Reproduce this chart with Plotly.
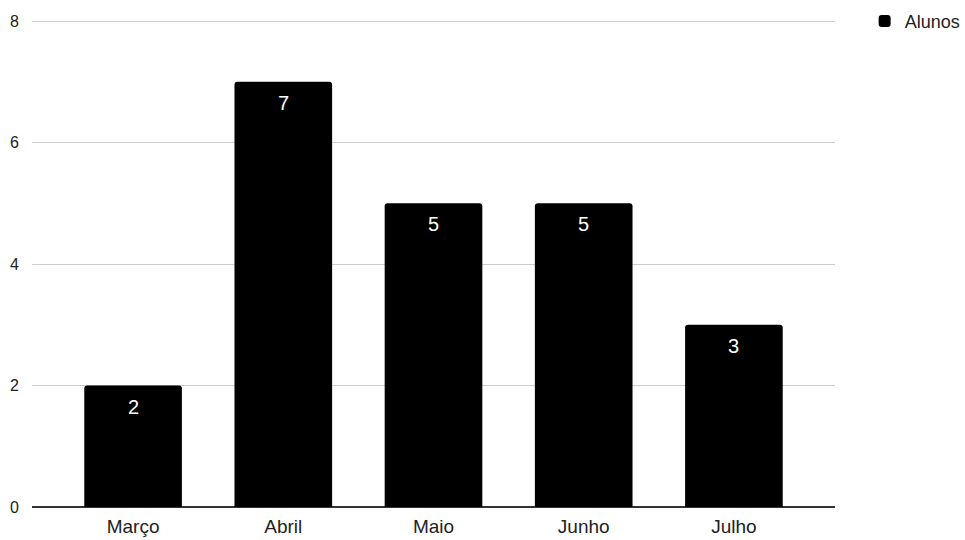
import plotly.graph_objects as go

categories = ["Março", "Abril", "Maio", "Junho", "Julho"]
alunos = [2, 7, 5, 5, 3]
y_ticks = [0, 2, 4, 6, 8]

FONT = "Arial, Liberation Sans, sans-serif"

fig = go.Figure()
fig.add_trace(go.Bar(
    x=categories, y=alunos, name="Alunos",
    marker=dict(color="#000000", cornerradius=3, line=dict(width=0)),
    width=0.65,
    showlegend=True,
))

for c, v in zip(categories, alunos):
    fig.add_annotation(x=c, y=v, text=str(v), showarrow=False,
                       yanchor="top", yshift=-8,
                       font=dict(color="#ffffff", size=20, family=FONT))

fig.update_layout(
    width=965, height=540,
    margin=dict(l=32, r=130, t=18, b=33, autoexpand=False),
    plot_bgcolor="#ffffff", paper_bgcolor="#ffffff",
    font=dict(family=FONT, size=18, color="#222222"),
    showlegend=True,
    legend=dict(xref="container", yref="container", x=0.896, y=0.995,
                xanchor="left", yanchor="top",
                font=dict(size=18, color="#222222"), bgcolor="rgba(0,0,0,0)"),
)
fig.update_xaxes(range=[-0.673, 4.673], showgrid=False, showline=False, zeroline=False,
                 automargin=False, ticks="", ticklabelstandoff=6,
                 tickfont=dict(size=19, color="#222222"))
fig.update_yaxes(range=[0, 8.05], tickvals=y_ticks, showgrid=True, gridcolor="#cccccc", gridwidth=1,
                 zeroline=True, zerolinecolor="#333333", zerolinewidth=1.5,
                 automargin=False, showline=False, ticks="", ticklabelstandoff=12,
                 tickfont=dict(size=16, color="#222222"))

fig.write_html("out.html")
